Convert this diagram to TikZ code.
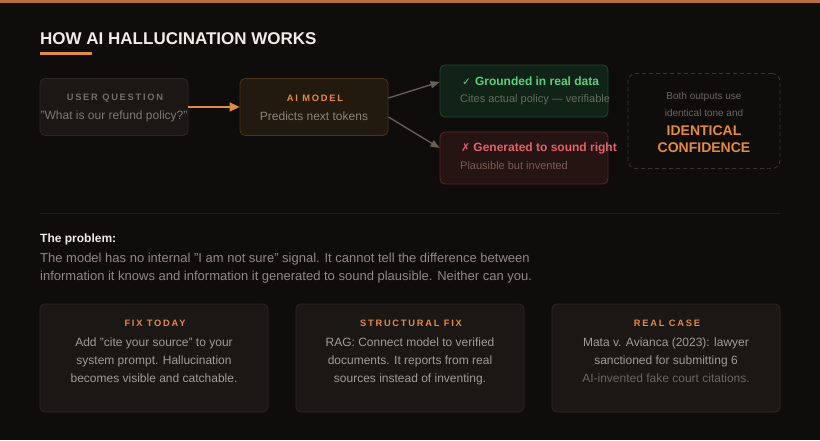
\documentclass[tikz,border=0pt]{standalone}
\usepackage{fontspec}
\setmainfont{Liberation Sans}
\newfontfamily\symfont{DejaVu Sans}
\usetikzlibrary{arrows.meta,calc}
\definecolor{bg}{HTML}{0F0D0C}
\definecolor{topbar}{HTML}{B8703A}
\definecolor{titlec}{HTML}{F0ECE6}
\definecolor{orangec}{HTML}{E68A3E}
\definecolor{boxfill}{HTML}{1A1715}
\definecolor{boxline}{HTML}{2C2825}
\definecolor{aifill}{HTML}{22190F}
\definecolor{ailine}{HTML}{4D3319}
\definecolor{grfill}{HTML}{112316}
\definecolor{grline}{HTML}{1F4A2B}
\definecolor{grtext}{HTML}{58D07C}
\definecolor{rdfill}{HTML}{261413}
\definecolor{rdline}{HTML}{552A27}
\definecolor{rdtext}{HTML}{E5616A}
\definecolor{labelc}{HTML}{746D67}
\definecolor{subc}{HTML}{8A847E}
\definecolor{dimc}{HTML}{6A6560}
\definecolor{bodyc}{HTML}{A29C96}
\definecolor{parac}{HTML}{8F8984}
\definecolor{arrowc}{HTML}{6A605A}
\definecolor{dashc}{HTML}{3A322B}
\definecolor{sepc}{HTML}{221F1C}
\definecolor{card3line}{HTML}{36291D}
\begin{document}
\begin{tikzpicture}[x=1pt,y=-1pt,
  panel/.style={draw=boxline, fill=boxfill, rounded corners=5pt, line width=0.8pt, inner sep=0pt},
  lbl/.style={inner sep=0pt, font=\fontsize{9.3}{11}\selectfont\bfseries\addfontfeature{LetterSpace=19}},
  sub/.style={inner sep=0pt, font=\fontsize{11}{13}\selectfont},
  mid/.style={inner sep=0pt, font=\fontsize{12}{14}\selectfont},
  body/.style={inner sep=0pt, align=center, text=bodyc, font=\fontsize{12}{18}\selectfont},
]
\useasboundingbox (0,0) rectangle (820,440);
\fill[bg] (0,0) rectangle (820,440);
\fill[topbar] (0,0) rectangle (820,3);

% title
\node[anchor=base west, inner sep=0pt, text=titlec, font=\fontsize{17}{20}\selectfont\bfseries] (title) at (40,44.5) {HOW AI HALLUCINATION WORKS};
\fill[orangec] (40,51.5) rectangle (92,54.5);

% user question
\node[panel, minimum width=148pt, minimum height=57pt] (uq) at (114,107) {};
\node[lbl, text=labelc] (uql) at (115,98.2) {USER QUESTION};
\node[mid, text=subc!110] (uqt) at (114,116.5) {"What is our refund policy?"};

% AI model
\node[panel, draw=ailine, fill=aifill, minimum width=148pt, minimum height=57pt] (ai) at (314,107) {};
\node[lbl, text=orangec] (ail) at (315,98.2) {AI MODEL};
\node[mid, text=subc] (ait) at (314,116.5) {Predicts next tokens};

\draw[orangec, line width=1.5pt, -{Triangle[length=10pt,width=9pt]}] (uq.east) -- (ai.west);

% grounded
\node[panel, draw=grline, fill=grfill, minimum width=168pt, minimum height=52pt] (grn) at (524,91) {};
\node[inner sep=0pt, anchor=west, text=grtext, font=\fontsize{12}{14}\selectfont\bfseries] (grt) at (462,81) {{\symfont\fontsize{10.5}{11}\selectfont\mdseries ✓}\hspace{4pt}Grounded in real data};
\node[sub, anchor=west, text=dimc!95!green] (grs) at (460,99.3) {Cites actual policy — verifiable};

% generated
\node[panel, draw=rdline, fill=rdfill, minimum width=168pt, minimum height=52pt] (red) at (524,158) {};
\node[inner sep=0pt, anchor=west, text=rdtext, font=\fontsize{12}{14}\selectfont\bfseries] (rdt) at (461,148.3) {{\symfont\fontsize{11}{11}\selectfont\mdseries ✗}\hspace{3pt}Generated to sound right};
\node[sub, anchor=west, text=dimc!90!red] (rds) at (460,166) {Plausible but invented};

\draw[arrowc, line width=1.3pt, -{Triangle[length=9pt,width=7pt]}] ($(ai.east)+(0,-9)$) -- ($(grn.west)+(0,-9)$);
\draw[arrowc, line width=1.3pt, -{Triangle[length=9pt,width=7pt]}] ($(ai.east)+(0,10)$) -- ($(red.west)+(0,-10)$);

% dashed box
\node[draw=dashc, dashed, dash pattern=on 4pt off 3pt, rounded corners=8pt, line width=0.9pt, inner sep=0pt, minimum width=152pt, minimum height=95pt] (conf) at (704,121) {};
\node[inner sep=0pt, text=dimc, font=\fontsize{10}{12}\selectfont] (c1) at (704,96.7) {Both outputs use};
\node[inner sep=0pt, text=dimc, font=\fontsize{10}{12}\selectfont] (c2) at (704,112.6) {identical tone and};
\node[inner sep=0pt, text=orangec, font=\fontsize{14}{16}\selectfont\bfseries] (c3) at (704,131) {IDENTICAL};
\node[inner sep=0pt, text=orangec, font=\fontsize{14}{16}\selectfont\bfseries] (c4) at (704,147.7) {CONFIDENCE};

% separator
\draw[sepc, line width=1pt] (40,213.5) -- (780,213.5);

% problem
\node[anchor=base west, inner sep=0pt, text=titlec, font=\fontsize{12}{14}\selectfont\bfseries] (pt) at (40,242) {The problem:};
\node[anchor=base west, inner sep=0pt, align=left, text=parac, font=\fontsize{13}{18}\selectfont] (pp) at (40,280.6) {The model has no internal "I am not sure" signal. It cannot tell the difference between\\information it knows and information it generated to sound plausible. Neither can you.};

% cards
\node[panel, minimum width=228pt, minimum height=108pt] (k1) at (154,358) {};
\node[panel, minimum width=228pt, minimum height=108pt] (k2) at (410,358) {};
\node[panel, draw=card3line, minimum width=228pt, minimum height=108pt] (k3) at (666,358) {};

\node[lbl, text=orangec] (k1t) at (155,322.8) {FIX TODAY};
\node[lbl, text=orangec] (k2t) at (411,322.8) {STRUCTURAL FIX};
\node[lbl, text=orangec] (k3t) at (667,322.8) {REAL CASE};

\node[body, anchor=base] (k1b) at (154,382.5) {Add "cite your source" to your\\system prompt. Hallucination\\becomes visible and catchable.};
\node[body, anchor=base] (k2b) at (410,382.5) {RAG: Connect model to verified\\documents. It reports from real\\sources instead of inventing.};
\node[body, anchor=base] (k3b) at (666,382.5) {Mata v. Avianca (2023): lawyer\\sanctioned for submitting 6\\{\color{dimc}AI-invented fake court citations.}};
\end{tikzpicture}
\end{document}
